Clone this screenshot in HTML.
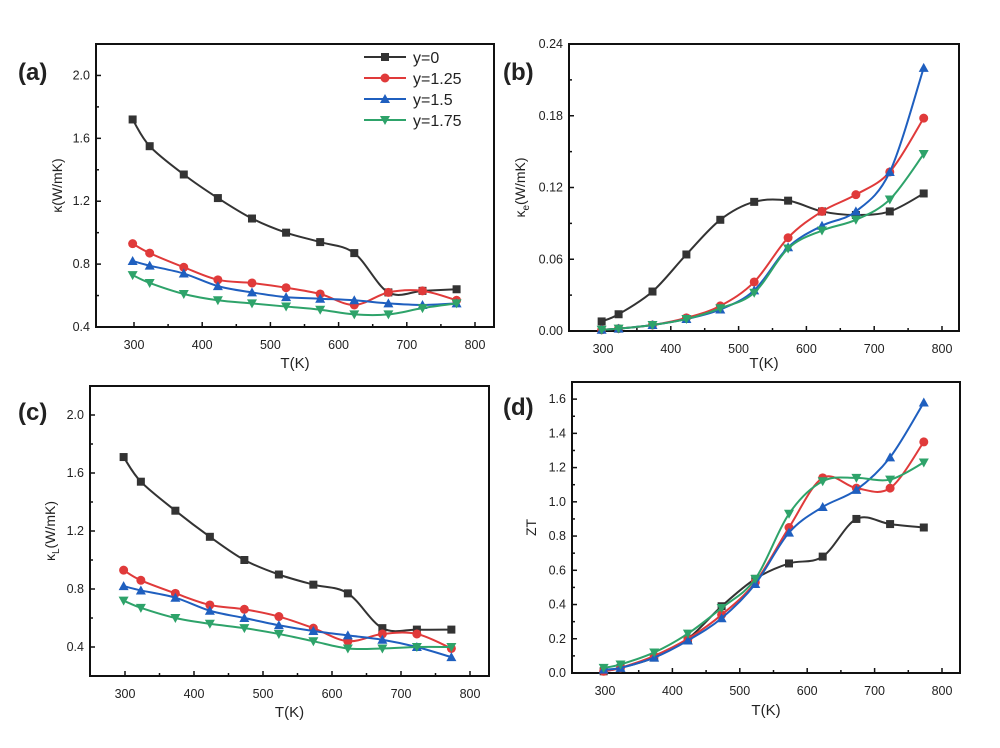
<!DOCTYPE html><html><head><meta charset="utf-8"><style>body{margin:0;background:#fff}svg{display:block}text{font-family:"Liberation Sans",sans-serif;fill:#222}</style></head><body>
<svg id="s" width="1000" height="748" xmlns="http://www.w3.org/2000/svg"></svg>
<script>
const T=[298,323,373,423,473,523,573,623,673,723,773];
const C=['#333333','#e03a3a','#1f5fbf','#2ea36a'];const M=['sq','ci','tu','td'];
const P=[
{x0:96,x1:494,y0:44,y1:327,xa:134,xb:475,ymin:0.4,ymax:2.2,yt:[0.4,0.8,1.2,1.6,2.0],yf:1,lab:'(a)',lx:18,ly:80,yl:'κ(W/mK)',ylx:62,xly:368,
d:[[1.72,1.55,1.37,1.22,1.09,1.0,0.94,0.87,0.62,0.63,0.64],[0.93,0.87,0.78,0.70,0.68,0.65,0.61,0.54,0.62,0.63,0.57],[0.82,0.79,0.74,0.66,0.62,0.59,0.58,0.57,0.55,0.54,0.55],[0.73,0.68,0.61,0.57,0.55,0.53,0.51,0.48,0.48,0.52,0.55]]},
{x0:569,x1:959,y0:44,y1:331,xa:603,xb:942,ymin:0,ymax:0.24,yt:[0,0.06,0.12,0.18,0.24],yf:2,lab:'(b)',lx:503,ly:80,yl:'κe',ylx:525,xly:368,
d:[[0.008,0.014,0.033,0.064,0.093,0.108,0.109,0.1,0.097,0.1,0.115],[0.001,0.002,0.005,0.011,0.021,0.041,0.078,0.1,0.114,0.133,0.178],[0.001,0.002,0.005,0.01,0.018,0.034,0.07,0.088,0.1,0.133,0.22],[0.001,0.002,0.005,0.01,0.019,0.032,0.069,0.084,0.093,0.11,0.148]]},
{x0:90,x1:489,y0:386,y1:676,xa:125,xb:470,ymin:0.2,ymax:2.2,yt:[0.4,0.8,1.2,1.6,2.0],yf:1,lab:'(c)',lx:18,ly:420,yl:'κL',ylx:55,xly:717,
d:[[1.71,1.54,1.34,1.16,1.0,0.9,0.83,0.77,0.53,0.52,0.52],[0.93,0.86,0.77,0.69,0.66,0.61,0.53,0.44,0.49,0.49,0.39],[0.82,0.79,0.74,0.65,0.6,0.55,0.51,0.48,0.45,0.40,0.33],[0.72,0.67,0.6,0.56,0.53,0.49,0.44,0.39,0.39,0.40,0.40]]},
{x0:572,x1:960,y0:382,y1:673,xa:605,xb:942,ymin:0,ymax:1.7,yt:[0,0.2,0.4,0.6,0.8,1.0,1.2,1.4,1.6],yf:1,lab:'(d)',lx:503,ly:415,yl:'ZT',ylx:536,xly:715,
d:[[0.01,0.03,0.09,0.2,0.39,0.55,0.64,0.68,0.9,0.87,0.85],[0.01,0.03,0.1,0.2,0.34,0.53,0.85,1.14,1.08,1.08,1.35],[0.02,0.03,0.09,0.19,0.32,0.52,0.82,0.97,1.07,1.26,1.58],[0.03,0.05,0.12,0.23,0.38,0.55,0.93,1.12,1.14,1.13,1.23]]}];
let h='';
function mk(t,x,y,c){if(t=='sq')return `<rect x="${x-4}" y="${y-4}" width="8" height="8" fill="${c}"/>`;
if(t=='ci')return `<circle cx="${x}" cy="${y}" r="4.5" fill="${c}"/>`;
if(t=='tu')return `<polygon points="${x},${y-5} ${x+5},${y+4} ${x-5},${y+4}" fill="${c}"/>`;
return `<polygon points="${x},${y+5} ${x+5},${y-4} ${x-5},${y-4}" fill="${c}"/>`;}
P.forEach(p=>{const sx=v=>p.xa+(v-300)*(p.xb-p.xa)/500, sy=v=>p.y1-(v-p.ymin)*(p.y1-p.y0)/(p.ymax-p.ymin);
h+=`<rect x="${p.x0}" y="${p.y0}" width="${p.x1-p.x0}" height="${p.y1-p.y0}" fill="none" stroke="#111" stroke-width="2"/>`;
for(let v=300;v<=800;v+=50){const x=sx(v);h+=`<line x1="${x}" x2="${x}" y1="${p.y1}" y2="${p.y1-(v%100?3:5)}" stroke="#111" stroke-width="1.5"/>`;if(v%100==0)h+=`<text x="${x}" y="${p.y1+22}" font-size="12.5" text-anchor="middle" fill="#333">${v}</text>`;}
p.yt.forEach((v,i)=>{const y=sy(v);h+=`<line x1="${p.x0}" x2="${p.x0+5}" y1="${y}" y2="${y}" stroke="#111" stroke-width="1.5"/><text x="${p.x0-6}" y="${y+4}" font-size="12.5" text-anchor="end" fill="#333">${v.toFixed(p.yf)}</text>`;
if(i<p.yt.length-1){const y2=sy((v+p.yt[i+1])/2);h+=`<line x1="${p.x0}" x2="${p.x0+3}" y1="${y2}" y2="${y2}" stroke="#111" stroke-width="1.5"/>`;}});
h+=`<text x="${(p.x0+p.x1)/2}" y="${p.xly}" font-size="15" text-anchor="middle">T(K)</text>`;
h+=`<text x="${p.lx}" y="${p.ly}" font-size="24" font-weight="bold">${p.lab}</text>`;
const cy=(p.y0+p.y1)/2;
let yl=p.yl=='κe'?'κ<tspan font-size="10" dy="4">e</tspan><tspan dy="-4">(W/mK)</tspan>':p.yl=='κL'?'κ<tspan font-size="10" dy="4">L</tspan><tspan dy="-4">(W/mK)</tspan>':p.yl;
h+=`<text transform="translate(${p.ylx},${cy}) rotate(-90)" font-size="14" text-anchor="middle">${yl}</text>`;
p.d.forEach((s,k)=>{const pts=s.map((v,i)=>[sx(T[i]),sy(v)]);let d=`M${pts[0][0]},${pts[0][1]}`;
for(let i=0;i<pts.length-1;i++){const a=pts[i-1]||pts[i],b=pts[i],c=pts[i+1],e=pts[i+2]||c;
d+=` C${b[0]+(c[0]-a[0])/6},${b[1]+(c[1]-a[1])/6} ${c[0]-(e[0]-b[0])/6},${c[1]-(e[1]-b[1])/6} ${c[0]},${c[1]}`;}
h+=`<path d="${d}" fill="none" stroke="${C[k]}" stroke-width="2"/>`;pts.forEach(q=>h+=mk(M[k],q[0],q[1],C[k]));});});
['y=0','y=1.25','y=1.5','y=1.75'].forEach((t,k)=>{const y=57+k*21;h+=`<line x1="364" x2="406" y1="${y}" y2="${y}" stroke="${C[k]}" stroke-width="2"/>`+mk(M[k],385,y,C[k])+`<text x="413" y="${y+6}" font-size="16">${t}</text>`;});
document.getElementById('s').innerHTML=h;
</script></body></html>
